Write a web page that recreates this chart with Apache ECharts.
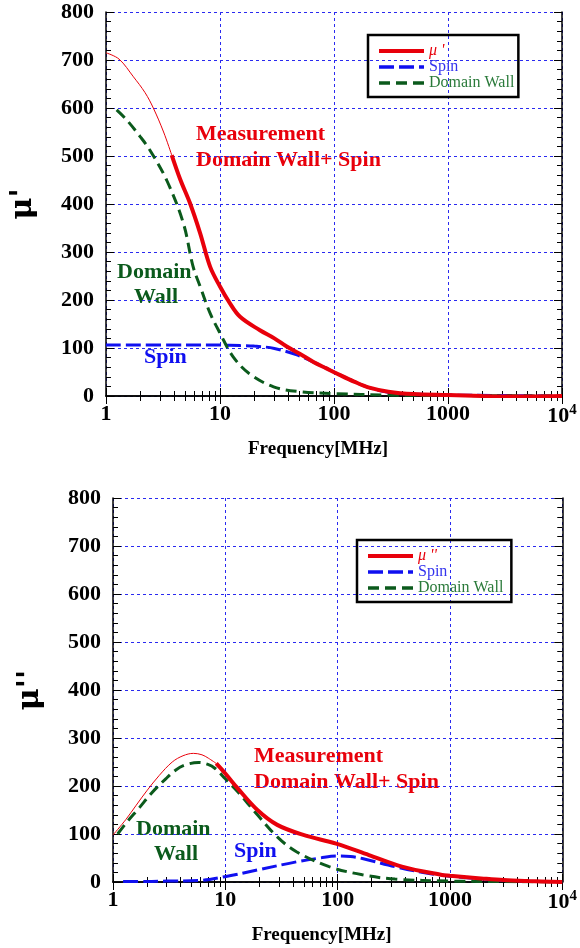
<!DOCTYPE html>
<html>
<head>
<meta charset="utf-8">
<script src="https://cdn.jsdelivr.net/npm/echarts@6/dist/echarts.min.js"></script>
<style>
  html, body { margin: 0; padding: 0; background: #fff; }
  #chart { width: 580px; height: 948px; }
</style>
</head>
<body>
<div id="chart"></div>
<script>
// ---- data (frequency in MHz) ----
// mu' (top)
const topMeasThinF = [1, 1.3, 1.74, 2.2, 2.6, 3.2, 3.77];
const topMeasThinV = [715, 702, 665, 632, 600, 550, 502];
const topMeasF = [3.77, 4.5, 5.45, 6.7, 8.2, 10, 12, 15, 22.4, 30, 38.5, 50, 66, 85, 112, 150, 200, 300, 500, 1000, 2000, 3000, 5000, 10000];
const topMeasV = [502, 450, 402, 339, 269, 228, 196, 165, 137, 120, 103, 88, 71, 58, 44, 30, 18, 9, 4, 2, 0, -1, -1, 0];
const topSpinF = [1, 5, 10, 15, 20, 30, 48, 70, 100, 150, 200, 300, 500, 1000, 3000, 10000];
const topSpinV = [106, 106, 106, 105, 104, 99, 85, 68, 50, 30, 18, 8, 4, 2, 1, 0];
const topWallF = [1.24, 1.52, 2, 2.43, 3.4, 4.77, 5.8, 6.7, 8.2, 10, 13, 18, 29.5, 50, 100, 300, 1000, 10000];
const topWallV = [596, 575, 540, 512, 450, 360, 270, 228, 172, 131, 82, 47, 19, 9, 5, 2, 1, 0];

// mu'' (bottom)
const botMeasThinF = [1, 1.3, 1.61, 2, 2.58, 3.37, 4.2, 5.2, 6.2, 7.06, 8.3];
const botMeasThinV = [98, 130, 160, 190, 222, 250, 263, 268, 265, 258, 247];
const botMeasF = [8.3, 10, 12.9, 19.3, 29, 49.5, 97, 190, 374, 830, 1000, 2000, 3000, 5000, 10000];
const botMeasV = [247, 226, 195, 150, 119, 98, 80, 56, 32, 15, 13, 7, 4, 2, 0];
const botSpinF = [1.23, 2, 3, 5.77, 9.9, 19.3, 43, 70, 97, 130, 166, 324, 632, 830, 1000, 2000, 3000, 10000];
const botSpinV = [1, 1, 2, 3, 11, 25, 42, 50, 54, 53, 49, 32, 18, 15, 12, 6, 3, 0];
const botWallF = [1.1, 1.3, 1.72, 2.2, 2.95, 3.6, 4.4, 5.77, 7, 8.07, 10, 12.9, 19.3, 29, 43, 84, 166, 324, 1000, 3000, 10000];
const botWallV = [100, 122, 155, 185, 215, 233, 244, 249, 245, 237, 215, 188, 140, 94, 63, 32, 15, 6, 2, 1, 0];

const pairs = (f, v) => f.map((x, i) => [x, v[i]]);

const RED = '#e8000b';
const BLUE = '#1010f0';
const GREEN = '#0b5a1c';
const SERIF = 'Liberation Serif';

const labelStyle = { fontFamily: SERIF, fontWeight: 'bold', fontSize: 22, color: '#000' };

// fresh objects per axis
const axisLine = () => ({ show: true, lineStyle: { color: '#000', width: 1.5 } });
const majorTick = () => ({ show: true, inside: true, length: 8, lineStyle: { color: '#000', width: 1 } });
const minorTick = n => ({ show: true, splitNumber: n, length: 5, lineStyle: { color: '#000', width: 1 } });
const grid = () => ({ show: true, lineStyle: { color: '#2a2af0', type: [3, 3], width: 1 } });

function xAxes(gi) {
  return [
    {
      type: 'log', logBase: 10, min: 1, max: 10000, gridIndex: gi, position: 'bottom',
      axisLine: axisLine(), axisTick: majorTick(), minorTick: minorTick(9), splitLine: grid(),
      axisLabel: {
        margin: 7,
        ...labelStyle,
        formatter: v => v === 10000 ? '{b|10}{s|4}' : String(v),
        rich: { b: labelStyle, s: { ...labelStyle, fontSize: 15, padding: [0, 0, 12, 0] } }
      },
      name: 'Frequency[MHz]', nameLocation: 'middle', nameGap: 44,
      nameTextStyle: { fontFamily: SERIF, fontWeight: 'bold', fontSize: 19, color: '#000', padding: [0, 32, 0, 0] }
    },
    {
      type: 'log', logBase: 10, min: 1, max: 10000, gridIndex: gi, position: 'top',
      axisLine: axisLine(), axisTick: majorTick(), minorTick: minorTick(9),
      splitLine: { show: false }, axisLabel: { show: false }
    }
  ];
}

function yAxes(gi, title) {
  return [
    {
      type: 'value', min: 0, max: 800, interval: 100, gridIndex: gi, position: 'left',
      axisLine: axisLine(), axisTick: majorTick(), minorTick: minorTick(5), splitLine: grid(),
      axisLabel: { margin: 12, ...labelStyle },
      name: title, nameLocation: 'middle', nameRotate: 90, nameGap: 68,
      nameTextStyle: { fontFamily: 'DejaVu Serif', fontWeight: 'bold', fontSize: 30, color: '#000' }
    },
    {
      type: 'value', min: 0, max: 800, interval: 100, gridIndex: gi, position: 'right',
      axisLine: axisLine(), axisTick: majorTick(), minorTick: minorTick(5),
      splitLine: { show: false }, axisLabel: { show: false }
    }
  ];
}

function line(name, data, gi, style) {
  return {
    name, type: 'line', data, xAxisIndex: gi * 2, yAxisIndex: gi * 2,
    showSymbol: false, symbol: 'none', smooth: 0.35, z: style.z || 2,
    lineStyle: style, itemStyle: { color: style.color }, silent: true
  };
}

const thick = { color: RED, width: 4, z: 3 };
const thin = { color: RED, width: 1, z: 3 };
const spin = { color: BLUE, width: 3, type: [15, 5] };
const wall = { color: GREEN, width: 3, type: [11, 6] };

function legend(gi, left, top, muName) {
  return {
    left, top, orient: 'vertical', itemWidth: 45, itemHeight: 10, itemGap: 0,
    borderColor: '#000', borderWidth: 2.5, padding: [8, 4, 6, 9], selectedMode: false,
    itemStyle: { opacity: 0 },
    textStyle: { fontFamily: SERIF, fontSize: 16, lineHeight: 15.5 },
    data: [
      { name: muName, textStyle: { color: RED, fontStyle: 'italic' }, lineStyle: { width: 4 } },
      { name: gi ? 'Spin ' : 'Spin', textStyle: { color: '#3333ee' }, lineStyle: { width: 3.5 } },
      { name: gi ? 'Domain Wall ' : 'Domain Wall', textStyle: { color: '#2a7a3a' }, lineStyle: { width: 3.5 } }
    ]
  };
}

const annot = (x, y, text, color) => ({
  type: 'text', left: x, top: y,
  style: { text, fill: color, font: 'bold 22px "Liberation Serif"', lineHeight: 26 }
});

const option = {
  animation: false,
  grid: [
    { left: 106, top: 12, width: 456, height: 384 },
    { left: 113, top: 498, width: 457, height: 384 }
  ],
  xAxis: [...xAxes(0), ...xAxes(1)],
  yAxis: [...yAxes(0, "μ'"), ...yAxes(1, "μ''")],
  legend: [legend(0, 368, 35, "μ '"), legend(1, 357, 540, "μ ''")],
  series: [
    line('top-thin', pairs(topMeasThinF, topMeasThinV), 0, thin),
    line("μ '", pairs(topMeasF, topMeasV), 0, thick),
    line('Spin', pairs(topSpinF, topSpinV), 0, spin),
    line('Domain Wall', pairs(topWallF, topWallV), 0, wall),
    line('bot-thin', pairs(botMeasThinF, botMeasThinV), 1, thin),
    line("μ ''", pairs(botMeasF, botMeasV), 1, thick),
    line('Spin ', pairs(botSpinF, botSpinV), 1, spin),
    line('Domain Wall ', pairs(botWallF, botWallV), 1, wall)
  ],
  graphic: [
    annot(196, 121, 'Measurement\nDomain Wall+ Spin', RED),
    annot(117, 259, 'Domain', GREEN),
    annot(134, 284, 'Wall', GREEN),
    annot(144, 344, 'Spin', BLUE),
    annot(254, 743, 'Measurement\nDomain Wall+ Spin', RED),
    annot(136, 816, 'Domain', GREEN),
    annot(154, 841, 'Wall', GREEN),
    annot(234, 838, 'Spin', BLUE)
  ]
};

const chart = echarts.init(document.getElementById('chart'), null, { renderer: 'canvas' });
chart.setOption(option);
</script>
</body>
</html>
